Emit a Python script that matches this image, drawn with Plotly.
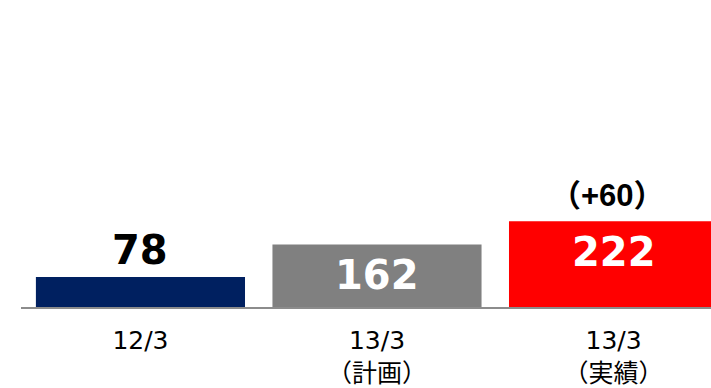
import plotly.graph_objects as go

# Data
categories = ["12/3", "13/3<br>（計画）", "13/3<br>（実績）"]
values = [78, 162, 222]
bar_colors = ["#002060", "#808080", "#FF0000"]

# Label styling per bar: colour and vertical offset (px) from bar top
label_colors = ["#000000", "#FFFFFF", "#FFFFFF"]
label_shifts = [27, -31, -31]

x_pos = list(range(len(categories)))

fig = go.Figure(
    go.Bar(
        x=x_pos,
        y=values,
        marker=dict(color=bar_colors, line=dict(width=0)),
        width=0.884,
        hoverinfo="skip",
    )
)

annotations = []
for xi, v, c, s in zip(x_pos, values, label_colors, label_shifts):
    annotations.append(
        dict(
            x=xi, y=v, text=str(v), showarrow=False,
            xanchor="center", yanchor="middle", yshift=s,
            font=dict(family="DejaVu Sans", size=40, color=c, weight="bold"),
        )
    )

# Change of the actual result against the plan
delta = values[2] - values[1]
annotations.append(
    dict(
        x=x_pos[2], y=values[2], text=f"（+{delta}）", showarrow=False,
        xanchor="center", yanchor="middle", yshift=26, xshift=-6,
        font=dict(family="Liberation Sans, Noto Sans CJK JP", size=31,
                  color="#000000", weight="bold"),
    )
)

fig.update_layout(
    width=711,
    height=388,
    margin=dict(l=21, r=0, t=0, b=81),
    paper_bgcolor="white",
    plot_bgcolor="white",
    showlegend=False,
    annotations=annotations,
    xaxis=dict(
        range=[-0.505, 2.412],
        tickvals=x_pos,
        ticktext=categories,
        automargin=False,
        showline=True,
        linecolor="#8c8c8c",
        linewidth=2,
        showgrid=False,
        zeroline=False,
        ticks="",
        ticklabelstandoff=10,
        tickfont=dict(family="DejaVu Sans, Noto Sans CJK JP", size=25, color="#000000"),
    ),
    yaxis=dict(
        range=[0, 795],
        visible=False,
        showgrid=False,
        zeroline=False,
    ),
)

fig.write_html("out.html")
